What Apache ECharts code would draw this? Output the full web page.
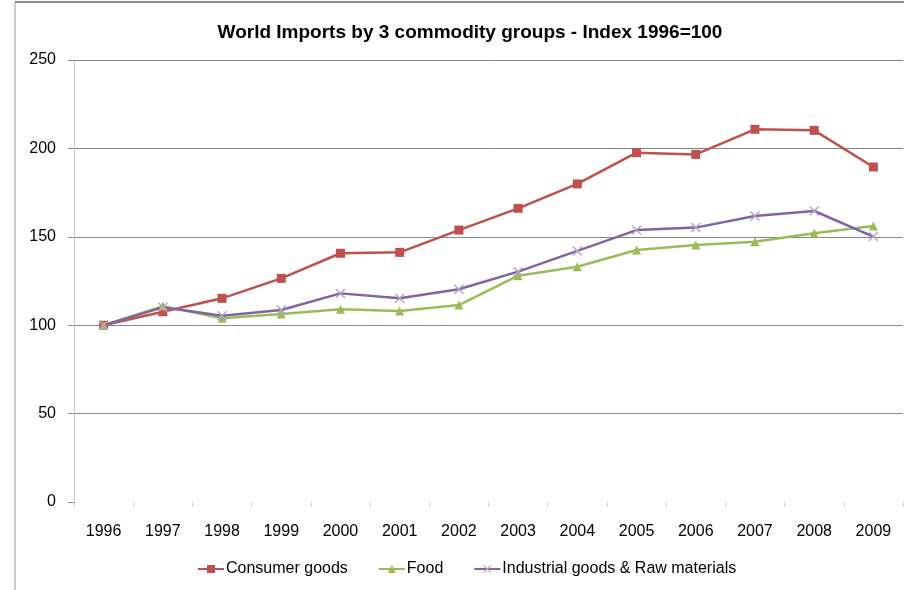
<!DOCTYPE html>
<html>
<head>
<meta charset="utf-8">
<script src="https://cdn.jsdelivr.net/npm/echarts@6/dist/echarts.min.js"></script>
<style>
  html, body { margin: 0; padding: 0; background: #fff; }
  #chart { width: 904px; height: 590px; }
</style>
</head>
<body>
<div id="chart"></div>
<script>
const years = ['1996', '1997', '1998', '1999', '2000', '2001', '2002', '2003', '2004', '2005', '2006', '2007', '2008', '2009']
const consumerGoods = [100, 107.6, 115.2, 126.5, 140.7, 141.2, 153.8, 166.1, 179.9, 197.6, 196.6, 210.8, 210.2, 189.5]
const food = [100, 110.8, 103.9, 106.3, 109, 108, 111.4, 128, 133.1, 142.5, 145.4, 147.2, 152, 156.1]
const industrial = [100, 110.1, 105.4, 108.6, 118, 115.2, 120.3, 130.3, 142, 153.8, 155.2, 161.8, 164.6, 150.1]

const font = 'Liberation Sans'
const xMark = 'path://M0,1L1,0L5,4L9,0L10,1L6,5L10,9L9,10L5,6L1,10L0,9L4,5Z'
const grid = '#868686'

const chart = echarts.init(document.getElementById('chart'))

chart.setOption({
  animation: false,
  textStyle: { fontFamily: font },
  title: {
    text: 'World Imports by 3 commodity groups - Index 1996=100',
    left: 465, top: 18, textAlign: 'center',
    textStyle: { fontSize: 19, fontWeight: 'bold', color: '#000', fontFamily: font }
  },
  graphic: [
    { type: 'line', shape: { x1: 15, y1: 2, x2: 904, y2: 2 }, style: { stroke: '#8c8c8c', lineWidth: 2 } },
    { type: 'line', shape: { x1: 15, y1: 2, x2: 15, y2: 590 }, style: { stroke: '#9a9a9a', lineWidth: 1 } }
  ],
  grid: { left: 74, right: 1, top: 60, bottom: 88 },
  legend: {
    bottom: 8, left: 192,
    itemWidth: 26, itemHeight: 10, itemGap: 30,
    textStyle: { fontSize: 16, color: '#000', fontFamily: font, padding: [0, 0, 0, -3] },
    data: ['Consumer goods', 'Food', 'Industrial goods & Raw materials']
  },
  xAxis: {
    type: 'category',
    data: years,
    boundaryGap: true,
    axisLine: { show: false },
    axisTick: { show: true, length: 5, lineStyle: { color: '#d4d4d4' } },
    axisLabel: { color: '#000', fontSize: 16, margin: 22 }
  },
  yAxis: {
    type: 'value',
    min: 0, max: 250, interval: 50,
    axisLine: { show: true, lineStyle: { color: '#c8c8c8' } },
    axisTick: { show: true, length: 6, lineStyle: { color: grid } },
    axisLabel: { color: '#000', fontSize: 16, margin: 18 },
    // no gridline drawn at 0
    splitLine: { lineStyle: { color: ['rgba(0,0,0,0)', grid, grid, grid, grid, grid] } }
  },
  series: [
    {
      name: 'Consumer goods', type: 'line', data: consumerGoods,
      symbol: 'rect', symbolSize: 9,
      lineStyle: { color: '#c0504d', width: 2.5 },
      itemStyle: { color: '#c0504d' }
    },
    {
      name: 'Food', type: 'line', data: food,
      symbol: 'triangle', symbolSize: 9,
      lineStyle: { color: '#9bbb59', width: 2.5 },
      itemStyle: { color: '#9bbb59' }
    },
    {
      name: 'Industrial goods & Raw materials', type: 'line', data: industrial,
      symbol: xMark, symbolSize: 10,
      lineStyle: { color: '#8064a2', width: 2.5 },
      itemStyle: { color: '#b3a2c7' }
    }
  ]
})
</script>
</body>
</html>
